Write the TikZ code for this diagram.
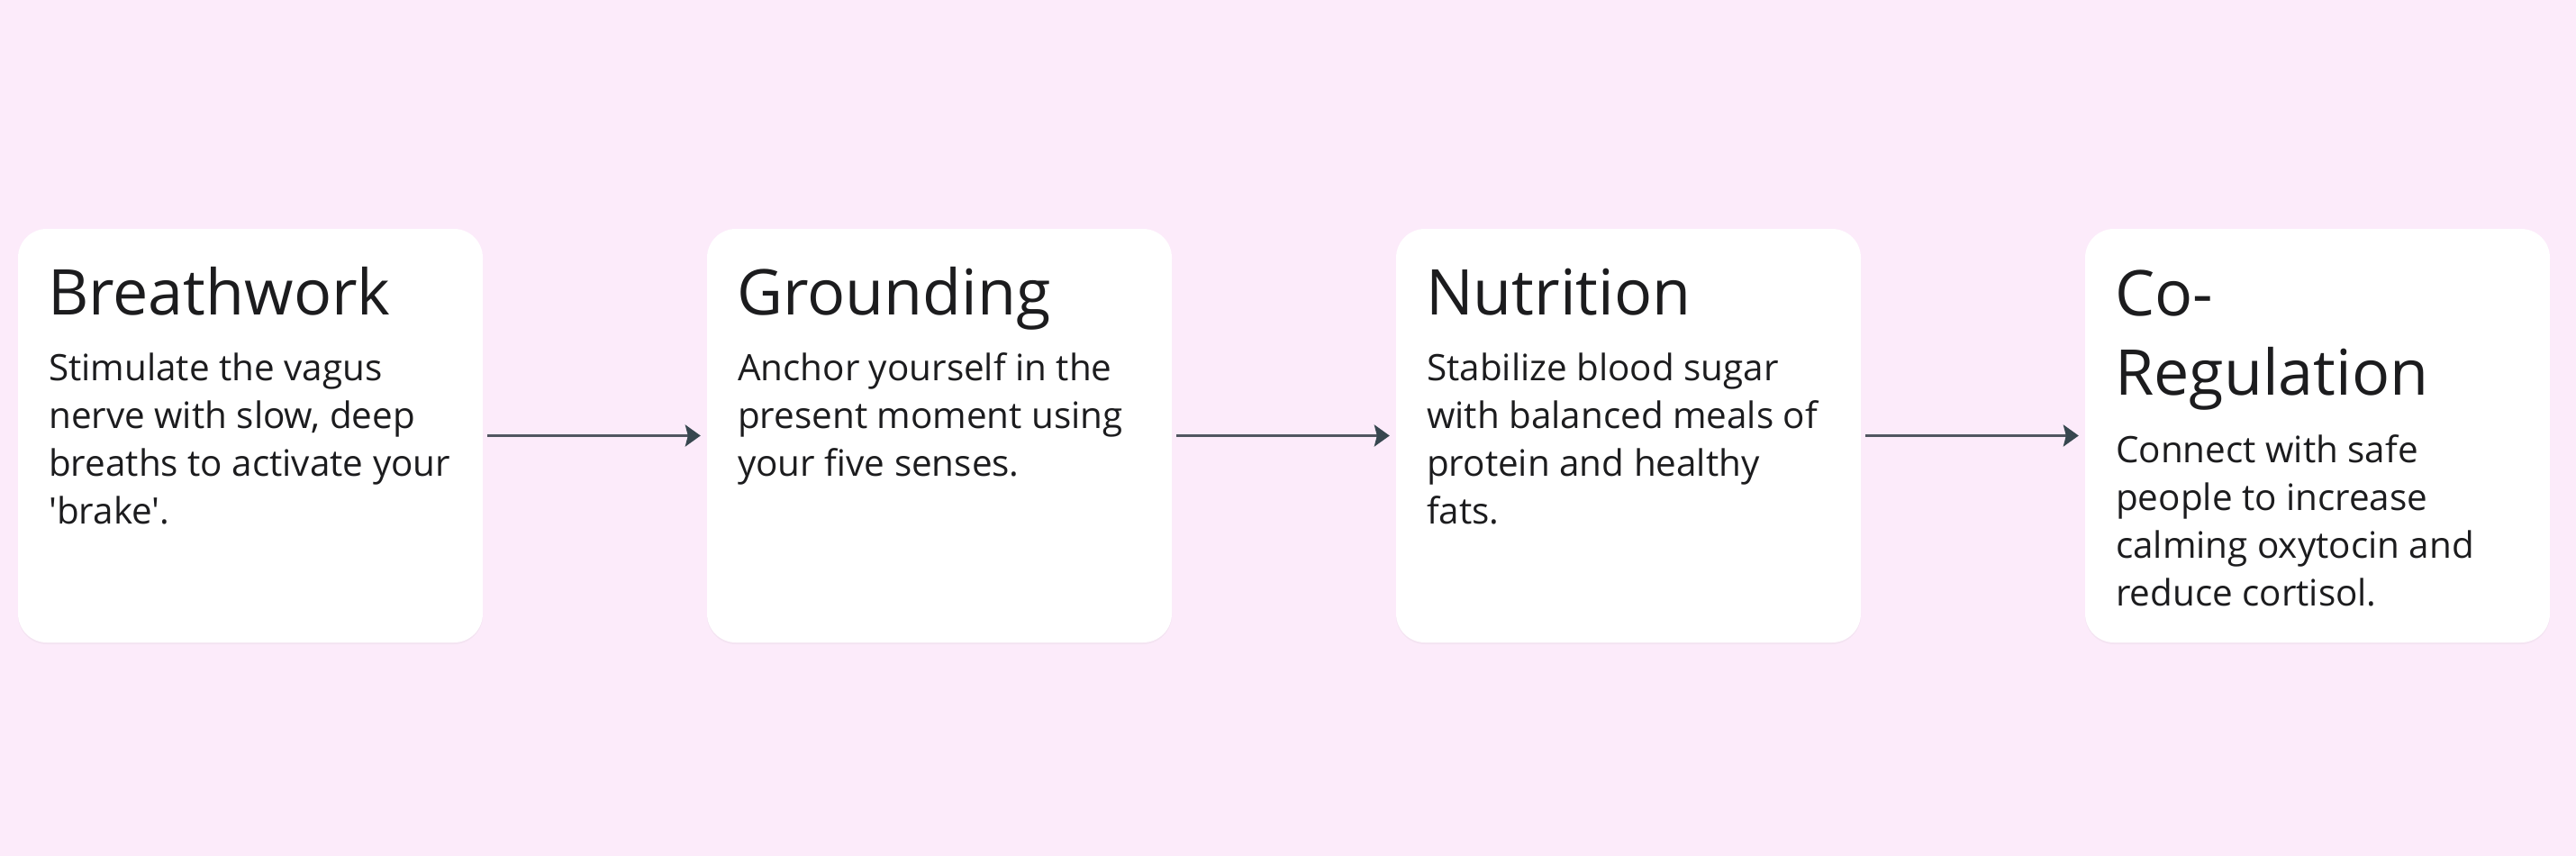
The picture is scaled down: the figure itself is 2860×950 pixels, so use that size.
\documentclass[tikz,border=0pt]{standalone}
\usepackage{fontspec}
\setmainfont{Open Sans}[Ligatures=TeXOff]
\usetikzlibrary{arrows.meta,shadows}
\definecolor{bgpink}{RGB}{252,235,250}
\definecolor{inkc}{RGB}{28,28,30}
\definecolor{linec}{RGB}{80,86,96}
\definecolor{headc}{RGB}{55,71,79}
\tikzset{
  card/.style={fill=white, rounded corners=32pt, minimum width=516pt, minimum height=459pt,
    inner sep=0pt, draw=none,
    drop shadow={opacity=0.06, shadow xshift=0pt, shadow yshift=-2pt}},
  ttl/.style={inner sep=0pt, anchor=base west, align=left, text=inkc,
    font=\fontsize{70}{88}\selectfont},
  bdy/.style={inner sep=0pt, anchor=base west, align=left, text=inkc,
    font=\fontsize{40.4}{53}\selectfont},
  arr/.style={draw=linec, line width=3pt, shorten <=5pt, shorten >=7pt,
    -{Stealth[length=17pt, width=24pt, inset=3pt, color=headc]}}
}
\begin{document}
\begin{tikzpicture}[x=1pt,y=-1pt]
\fill[bgpink] (0,0) rectangle (2860,950);
\useasboundingbox (0,0) rectangle (2860,950);
% cards
\node[card] (b1) at (278,483.5) {};
\node[card] (b2) at (1043,483.5) {};
\node[card] (b3) at (1808,483.5) {};
\node[card] (b4) at (2573,483.5) {};
% titles (base anchor = baseline of last line)
\node[ttl] (t1) at (53,349) {Breathwork};
\node[ttl] (t2) at (818,349) {Grounding};
\node[ttl] (t3) at (1583,349) {Nutrition};
\node[ttl] (t4) at (2348,438) {Co-\\Regulation};
% bodies
\node[bdy] (d1) at (54,581) {Stimulate the vagus\\nerve with slow, deep\\breaths to activate your\\'brake'.};
\node[bdy] (d2) at (819,528) {Anchor yourself in the\\present moment using\\your five senses.};
\node[bdy] (d3) at (1584,581) {Stabilize blood sugar\\with balanced meals of\\protein and healthy\\fats.};
\node[bdy] (d4) at (2349,672) {Connect with safe\\people to increase\\calming oxytocin and\\reduce cortisol.};
% connectors
\draw[arr] (b1.east) -- (b2.west);
\draw[arr] (b2.east) -- (b3.west);
\draw[arr] (b3.east) -- (b4.west);
\end{tikzpicture}
\end{document}
